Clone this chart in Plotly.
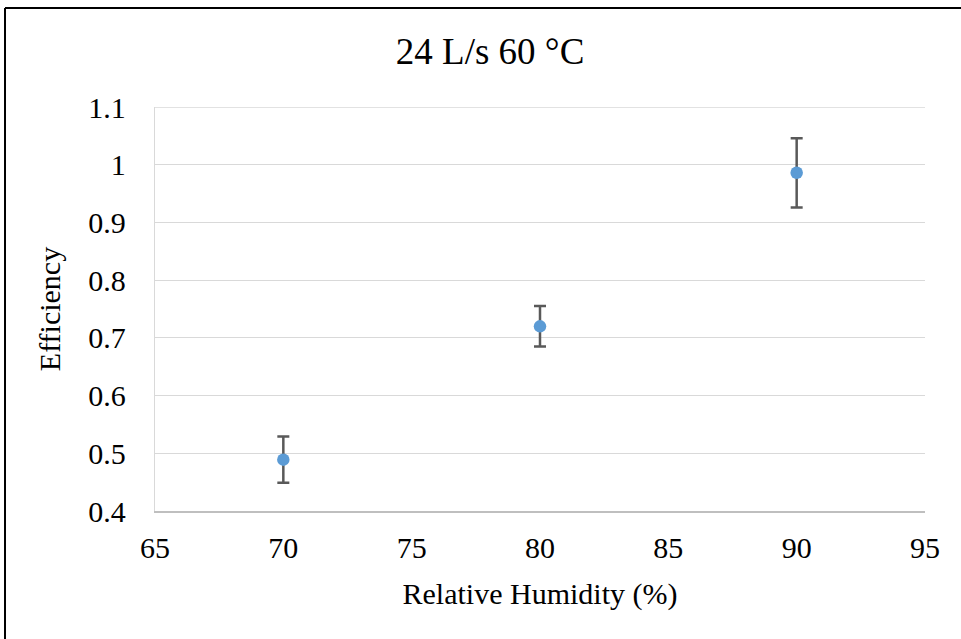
import plotly.graph_objects as go

# Data
rh = [70, 80, 90]
efficiency = [0.489, 0.72, 0.986]
error = [0.04, 0.035, 0.06]

x_tick_vals = [65, 70, 75, 80, 85, 90, 95]
y_tick_vals = [0.4, 0.5, 0.6, 0.7, 0.8, 0.9, 1.0, 1.1]
y_tick_text = ["0.4", "0.5", "0.6", "0.7", "0.8", "0.9", "1", "1.1"]

FONT = "Liberation Serif"

fig = go.Figure(
    go.Scatter(
        x=rh,
        y=efficiency,
        mode="markers",
        marker=dict(size=12.5, color="#5B9BD5"),
        error_y=dict(type="data", array=error, color="#595959", thickness=2.5, width=6),
        showlegend=False,
    )
)

fig.update_layout(
    width=961,
    height=639,
    margin=dict(l=155, r=36, t=107, b=128),
    paper_bgcolor="white",
    plot_bgcolor="white",
    font=dict(family=FONT, color="black", size=30),
    title=dict(
        text="24 L/s 60 °C",
        font=dict(family=FONT, size=37, color="black"),
        xref="container", x=0.51, xanchor="center",
        yref="container", y=1 - 51 / 639, yanchor="middle",
    ),
    xaxis=dict(
        range=[65, 95],
        tickvals=x_tick_vals,
        showgrid=False,
        zeroline=False,
        showline=True,
        linecolor="#bfbfbf",
        linewidth=1.5,
        ticks="",
        ticklabelstandoff=9,
        tickfont=dict(family=FONT, size=30, color="black"),
        title=dict(text="Relative Humidity (%)", font=dict(family=FONT, size=30, color="black"), standoff=20),
    ),
    yaxis=dict(
        range=[0.4, 1.1],
        tickvals=y_tick_vals,
        ticktext=y_tick_text,
        showgrid=True,
        gridcolor="#d9d9d9",
        gridwidth=1.3,
        zeroline=False,
        showline=True,
        linecolor="#d9d9d9",
        linewidth=1.3,
        ticks="",
        ticklabelstandoff=22,
        tickfont=dict(family=FONT, size=30, color="black"),
        title=dict(text="Efficiency", font=dict(family=FONT, size=30, color="black"), standoff=18),
    ),
    shapes=[
        dict(type="line", xref="paper", yref="y",
             x0=0, x1=1, y0=1.1, y1=1.1,
             line=dict(color="#d9d9d9", width=1.3), layer="below"),
        dict(type="line", xref="paper", yref="paper",
             x0=-0.1948, x1=-0.1948, y0=-0.6, y1=1.245,
             line=dict(color="black", width=2)),
        dict(type="line", xref="paper", yref="paper",
             x0=-0.1948, x1=1.2, y0=1.245, y1=1.245,
             line=dict(color="black", width=2)),
    ],
)

fig.write_html("out.html")
